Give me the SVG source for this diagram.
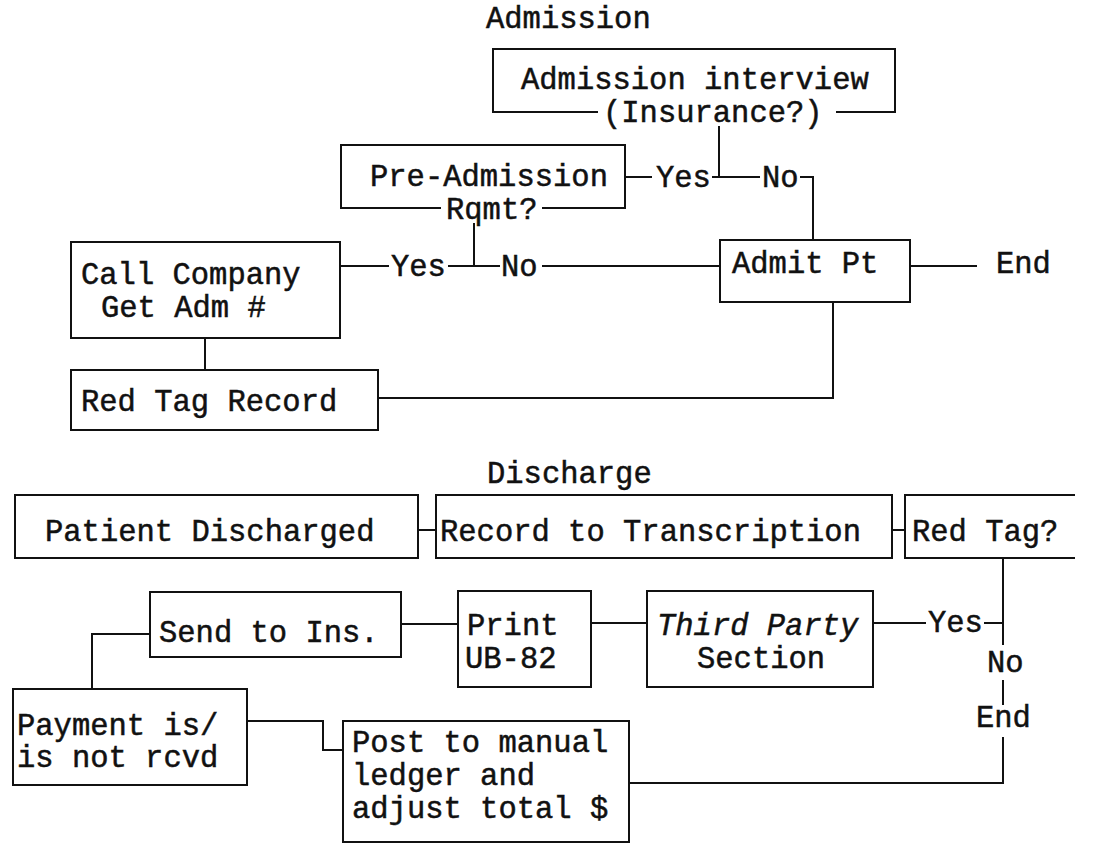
<svg xmlns="http://www.w3.org/2000/svg" width="1099" height="847" viewBox="0 0 1099 847">
<style>
text{font-family:"Liberation Mono","Courier New",monospace;font-size:30.5px;fill:#111;stroke:#111;stroke-width:0.5}
.b{fill:none;stroke:#111;stroke-width:2}
.c{fill:none;stroke:#111;stroke-width:2}
.i{font-style:italic}
</style>
<rect width="1099" height="847" fill="#fff"/>
<text x="486" y="28">Admission</text>
<text x="487" y="483">Discharge</text>
<g id="n-admission-interview">
<path class="b" d="M598,112 H493 V49 H895 V112 H836"/>
<text x="521" y="89">Admission interview</text>
<text x="603" y="122">(Insurance?)</text>
</g>
<g id="n-pre-admission">
<path class="b" d="M441,208 H341 V145 H625 V208 H542"/>
<text x="370" y="186">Pre-Admission</text>
<text x="446" y="219">Rqmt?</text>
</g>
<g id="n-call-company">
<rect class="b" x="71" y="242" width="269" height="96"/>
<text x="81" y="284">Call Company</text>
<text x="101" y="317">Get Adm #</text>
</g>
<g id="n-red-tag-record">
<rect class="b" x="71" y="370" width="307" height="60"/>
<text x="81" y="411">Red Tag Record</text>
</g>
<g id="n-admit-pt">
<rect class="b" x="720" y="240" width="190" height="62"/>
<text x="732" y="273">Admit Pt</text>
</g>
<g id="n-end1"><text x="996" y="273">End</text></g>
<g id="n-patient-discharged">
<rect class="b" x="15" y="495" width="403" height="63"/>
<text x="45" y="541">Patient Discharged</text>
</g>
<g id="n-record-transcription">
<rect class="b" x="436" y="495" width="456" height="63"/>
<text x="440" y="541">Record to Transcription</text>
</g>
<g id="n-red-tag">
<path class="b" d="M1075,495 H905 V558 H1075"/>
<text x="912" y="541">Red Tag?</text>
</g>
<g id="n-send-ins">
<rect class="b" x="150" y="592" width="251" height="65"/>
<text x="159" y="642">Send to Ins.</text>
</g>
<g id="n-print">
<rect class="b" x="458" y="591" width="133" height="96"/>
<text x="467" y="635">Print</text>
<text x="465" y="668">UB-82</text>
</g>
<g id="n-third-party">
<rect class="b" x="647" y="591" width="226" height="96"/>
<text class="i" x="657" y="635">Third Party</text>
<text x="697" y="668">Section</text>
</g>
<g id="n-payment">
<rect class="b" x="13" y="689" width="234" height="96"/>
<text x="17" y="735">Payment is/</text>
<text x="17" y="767">is not rcvd</text>
</g>
<g id="n-post-ledger">
<rect class="b" x="343" y="721" width="286" height="121"/>
<text x="352" y="752">Post to manual</text>
<text x="352" y="785">ledger and</text>
<text x="352" y="818">adjust total $</text>
</g>
<g id="labels">
<text x="656" y="187">Yes</text>
<text x="762" y="187">No</text>
<text x="391" y="276">Yes</text>
<text x="501" y="276">No</text>
<text x="928" y="632">Yes</text>
<text x="987" y="672">No</text>
<text x="976" y="727">End</text>
</g>
<g id="connectors">
<path class="c" d="M719,126 V177"/>
<path class="c" d="M625,177 H652 M712,177 H760 M800,177 H813 V240"/>
<path class="c" d="M474,223 V266"/>
<path class="c" d="M340,266 H389 M448,266 H500 M542,266 H720"/>
<path class="c" d="M910,266 H977"/>
<path class="c" d="M205,338 V370"/>
<path class="c" d="M378,398 H833 V302"/>
<path class="c" d="M418,530 H436 M892,530 H905"/>
<path class="c" d="M150,634 H92 V689"/>
<path class="c" d="M401,624 H458 M591,623 H647"/>
<path class="c" d="M873,623 H926 M984,623 H1003 M1003,558 V645"/>
<path class="c" d="M1003,680 V705 M1003,737 V783 H629"/>
<path class="c" d="M247,721 H323 V750 H343"/>
</g>
</svg>
